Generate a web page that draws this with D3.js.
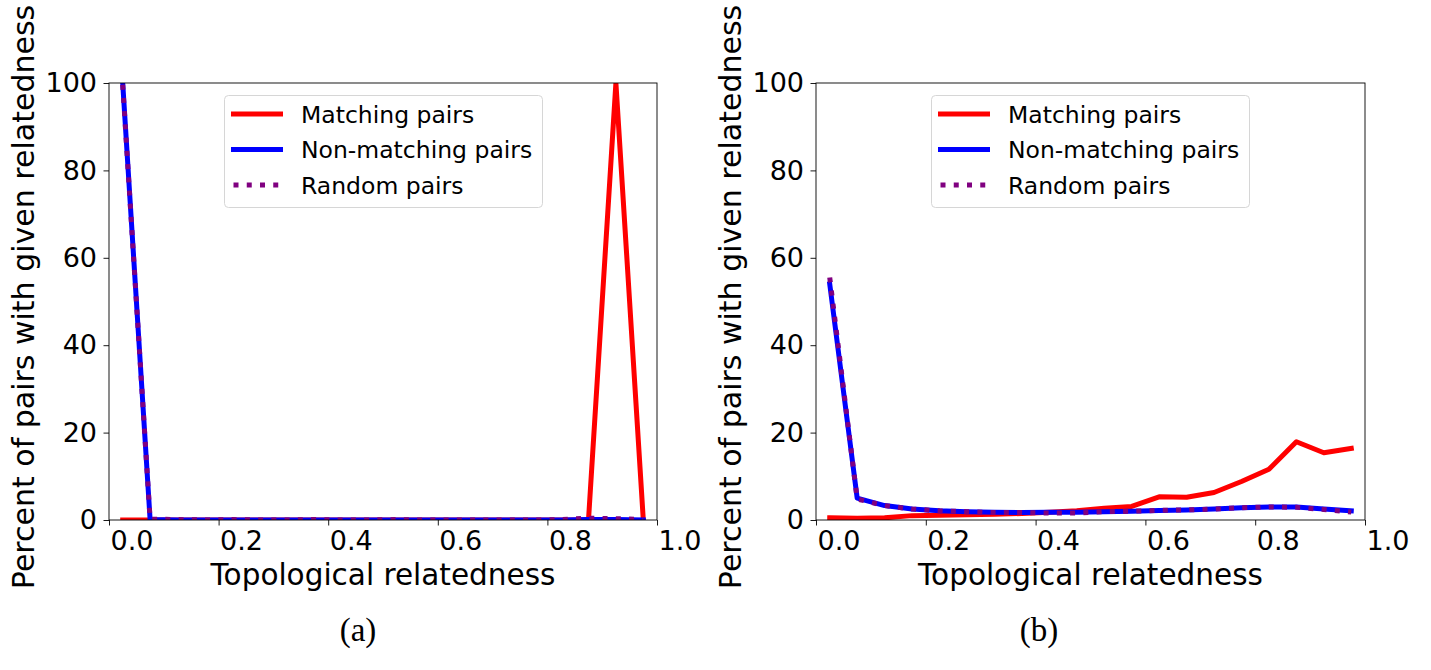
<!DOCTYPE html>
<html>
<head>
<meta charset="utf-8">
<script src="https://cdn.jsdelivr.net/npm/d3@7"></script>
<style>
  body { margin: 0; background: #fff; }
  svg { display: block; }
</style>
</head>
<body>
<svg width="1431" height="670"></svg>
<script>
// bin centres along the x axis
var binCenters = [0.025, 0.075, 0.125, 0.175, 0.225, 0.275, 0.325, 0.375, 0.425, 0.475,
                  0.525, 0.575, 0.625, 0.675, 0.725, 0.775, 0.825, 0.875, 0.925, 0.975];
var xTicks = [0, 0.2, 0.4, 0.6, 0.8, 1.0];
var yTicks = [0, 20, 40, 60, 80, 100];
var seriesNames = ['Matching pairs', 'Non-matching pairs', 'Random pairs'];

// panel (a)
var matchingA    = [0, 0, 0, 0, 0, 0, 0, 0, 0, 0, 0, 0, 0, 0, 0, 0, 0, 0, 100, 0];
var nonMatchingA = [100, 0.1, 0, 0, 0, 0, 0, 0, 0, 0, 0, 0, 0, 0, 0, 0, 0, 0.1, 0.1, 0];
var randomA      = [99.6, 0.2, 0.1, 0, 0.1, 0, 0, 0.1, 0, 0, 0.1, 0, 0, 0, 0, 0, 0.1, 0.4, 0.3, 0.1];

// panel (b)
var matchingB    = [0.5, 0.4, 0.5, 1.0, 1.1, 1.2, 1.3, 1.5, 1.8, 2.1,
                    2.7, 3.1, 5.3, 5.2, 6.3, 8.8, 11.6, 17.9, 15.4, 16.4];
var nonMatchingB = [54, 5.0, 3.3, 2.5, 2.1, 1.9, 1.75, 1.7, 1.75, 1.8,
                    1.9, 2.0, 2.2, 2.3, 2.5, 2.8, 3.0, 3.0, 2.5, 2.1];
var randomB      = [55.5, 4.8, 3.3, 2.5, 2.1, 1.9, 1.7, 1.7, 1.6, 1.6,
                    1.9, 2.0, 2.2, 2.3, 2.5, 2.8, 3.0, 2.9, 2.4, 1.8];

var colors = ['#ff0000', '#0000ff', '#800080'];

var panels = [
  { id: 'a', left: 109, right: 657, ylabelX: 34, legendX: 224, captionX: 358, caption: '(a)',
    series: [matchingA, nonMatchingA, randomA] },
  { id: 'b', left: 816, right: 1365, ylabelX: 741, legendX: 931, captionX: 1039, caption: '(b)',
    series: [matchingB, nonMatchingB, randomB] }
];

var plotTop = 83, plotBottom = 520;
var svg = d3.select('svg');
var font = 'DejaVu Sans, sans-serif';

panels.forEach(function(p){
  var x = d3.scaleLinear().domain([0, 1]).range([p.left, p.right]);
  var y = d3.scaleLinear().domain([0, 100]).range([plotBottom, plotTop]);

  var clipId = 'clip-' + p.id;
  svg.append('clipPath').attr('id', clipId)
    .append('rect')
      .attr('x', p.left).attr('y', plotTop)
      .attr('width', p.right - p.left).attr('height', plotBottom - plotTop);

  var line = d3.line()
    .x(function(d, i){ return x(binCenters[i]); })
    .y(function(d){ return y(d); });

  // series, drawn in legend order
  var g = svg.append('g').attr('clip-path', 'url(#' + clipId + ')');
  p.series.forEach(function(vals, i){
    g.append('path')
      .datum(vals)
      .attr('d', line)
      .attr('fill', 'none')
      .attr('stroke', colors[i])
      .attr('stroke-width', 5)
      .attr('stroke-linejoin', 'round')
      .attr('stroke-linecap', i == 2 ? 'butt' : 'square')
      .attr('stroke-dasharray', i == 2 ? '5,8.25' : null);
  });

  // axes
  var xAxis = svg.append('g')
    .attr('transform', 'translate(0,' + plotBottom + ')')
    .call(d3.axisBottom(x).tickValues(xTicks).tickSize(5.5).tickPadding(5)
      .tickFormat(d3.format('.1f')));
  xAxis.selectAll('text')
    .attr('text-anchor', 'start')
    .attr('x', 1)
    .style('font-family', font).style('font-size', '27px').attr('fill', '#000');

  var yAxis = svg.append('g')
    .attr('transform', 'translate(' + p.left + ',0)')
    .call(d3.axisLeft(y).tickValues(yTicks).tickSize(5.5).tickPadding(6.5));
  yAxis.selectAll('text')
    .style('font-family', font).style('font-size', '27px').attr('fill', '#000');

  [xAxis, yAxis].forEach(function(a){
    a.select('.domain').remove();
    a.selectAll('line').attr('stroke', '#000').attr('stroke-width', 0.9);
  });

  // frame
  svg.append('rect')
    .attr('x', p.left).attr('y', plotTop)
    .attr('width', p.right - p.left).attr('height', plotBottom - plotTop)
    .attr('fill', 'none').attr('stroke', '#000').attr('stroke-width', 0.9);

  // labels
  svg.append('text')
    .attr('x', (p.left + p.right) / 2).attr('y', 585)
    .attr('text-anchor', 'middle')
    .style('font-family', font).style('font-size', '29.5px')
    .text('Topological relatedness');

  svg.append('text')
    .attr('transform', 'translate(' + p.ylabelX + ',297) rotate(-90)')
    .attr('text-anchor', 'middle')
    .style('font-family', font).style('font-size', '30px')
    .text('Percent of pairs with given relatedness');

  svg.append('text')
    .attr('x', p.captionX).attr('y', 641)
    .attr('text-anchor', 'middle')
    .style('font-family', 'Liberation Serif, serif').style('font-size', '33px')
    .text(p.caption);

  // legend
  var lg = svg.append('g').attr('transform', 'translate(' + p.legendX + ',95)');
  lg.append('rect')
    .attr('x', 0.5).attr('y', 0.5)
    .attr('width', 318).attr('height', 112)
    .attr('rx', 4)
    .attr('fill', '#fff').attr('fill-opacity', 0.8)
    .attr('stroke', '#d6d6d6').attr('stroke-width', 1);

  seriesNames.forEach(function(name, i){
    var cy = 19 + i * 35.5;
    lg.append('line')
      .attr('x1', 9.5).attr('x2', 56.5)
      .attr('y1', cy).attr('y2', cy)
      .attr('stroke', colors[i])
      .attr('stroke-width', 5)
      .attr('stroke-linecap', i == 2 ? 'butt' : 'square')
      .attr('stroke-dasharray', i == 2 ? '5,8.25' : null);
    lg.append('text')
      .attr('x', 77).attr('y', cy + 8.5)
      .style('font-family', font).style('font-size', '23.5px')
      .text(name);
  });
});
</script>
</body>
</html>
